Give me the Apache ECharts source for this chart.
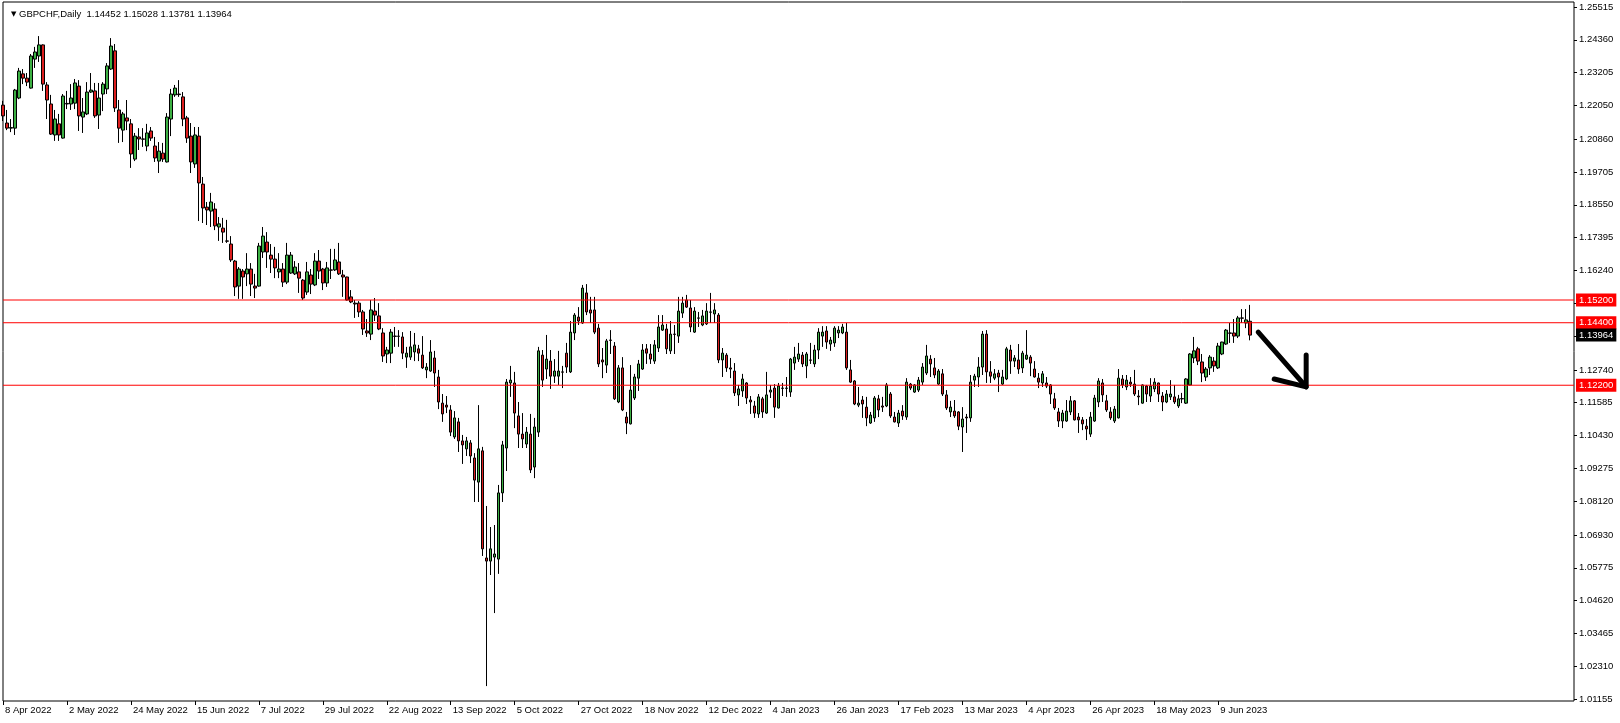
<!DOCTYPE html>
<html><head><meta charset="utf-8">
<script src="https://cdn.jsdelivr.net/npm/echarts@6/dist/echarts.min.js"></script>
<style>html,body{margin:0;padding:0;background:#fff}#c{width:1620px;height:723px}</style>
</head><body><div id="c"></div>
<script>
const symbolText = 'GBPCHF,Daily';
const lastQuote = ['1.14452', '1.15028', '1.13781', '1.13964'];
const dateLabels = ['8 Apr 2022','2 May 2022','24 May 2022','15 Jun 2022','7 Jul 2022','29 Jul 2022','22 Aug 2022','13 Sep 2022','5 Oct 2022','27 Oct 2022','18 Nov 2022','12 Dec 2022','4 Jan 2023','26 Jan 2023','17 Feb 2023','13 Mar 2023','4 Apr 2023','26 Apr 2023','18 May 2023','9 Jun 2023'];
const barsPerLabel = 16;
const totalSlots = 394;
const yTickLabels = ['1.25515','1.24360','1.23205','1.22050','1.20860','1.19705','1.18550','1.17395','1.16240','1.15085','1.13930','1.12740','1.11585','1.10430','1.09275','1.08120','1.06930','1.05775','1.04620','1.03465','1.02310','1.01155'];
const levelLines = [1.15200, 1.14400, 1.12200];
const bidPrice = 1.13964;
const arrowShaft = [[314, 1.1407], [326, 1.1214]];
const arrowHead = [[318, 1.1242], [326, 1.1214], [326, 1.1326]];

const opens = [
1.2206,1.2143,1.2125,1.2125,1.2231,1.2316,1.2301,1.2266,1.2368,1.2379,
1.2418,1.2277,1.2210,1.2101,1.2140,1.2090,1.2210,1.2210,1.2213,1.2273,
1.2164,1.2175,1.2252,1.2256,1.2171,1.2245,1.2263,1.2333,1.2397,1.2189,
1.2118,1.2161,1.2140,1.2016,1.2094,1.2087,1.2062,1.2115,1.2062,1.2009,
1.2037,1.2006,1.2157,1.2242,1.2245,1.2235,1.2161,1.2097,1.1999,1.2097,
1.1928,1.1847,1.1833,1.1840,1.1777,1.1773,1.1728,1.1717,1.1657,1.1569,
1.1622,1.1612,1.1629,1.1569,1.1569,1.1689,1.1724,1.1678,1.1664,1.1619,
1.1629,1.1583,1.1615,1.1612,1.1619,1.1590,1.1548,1.1608,1.1573,1.1657,
1.1629,1.1580,1.1626,1.1626,1.1654,1.1608,1.1601,1.1531,1.1509,1.1509,
1.1478,1.1411,1.1400,1.1481,1.1464,1.1404,1.1330,1.1333,1.1393,1.1392,
1.1390,1.1319,1.1319,1.1337,1.1348,1.1326,1.1274,1.1270,1.1316,1.1249,
1.1157,1.1150,1.1133,1.1038,1.1091,1.1024,1.0996,1.1017,1.0964,1.0879,
1.0989,1.0612,1.0601,1.0615,1.0608,1.0841,1.0999,1.1228,1.1228,1.1112,
1.1048,1.1013,1.1048,1.0932,1.1055,1.1326,1.1277,1.1305,1.1252,1.1252,
1.1267,1.1333,1.1267,1.1404,1.1460,1.1439,1.1545,1.1485,1.1485,1.1421,
1.1309,1.1291,1.1379,1.1358,1.1161,1.1281,1.1108,1.1084,1.1175,1.1245,
1.1277,1.1348,1.1330,1.1305,1.1351,1.1414,1.1418,1.1341,1.1400,1.1393,
1.1474,1.1520,1.1492,1.1407,1.1457,1.1432,1.1436,1.1478,1.1471,1.1467,
1.1309,1.1326,1.1281,1.1270,1.1186,1.1200,1.1228,1.1168,1.1147,1.1119,
1.1172,1.1122,1.1196,1.1210,1.1140,1.1210,1.1209,1.1196,1.1298,1.1312,
1.1326,1.1288,1.1309,1.1295,1.1344,1.1393,1.1411,1.1365,1.1369,1.1404,
1.1404,1.1407,1.1274,1.1235,1.1150,1.1168,1.1143,1.1087,1.1105,1.1172,
1.1147,1.1147,1.1189,1.1108,1.1087,1.1129,1.1108,1.1224,1.1196,1.1203,
1.1231,1.1263,1.1312,1.1281,1.1224,1.1260,1.1186,1.1126,1.1129,1.1126,
1.1073,1.1108,1.1105,1.1238,1.1249,1.1284,1.1400,1.1267,1.1245,1.1263,
1.1224,1.1242,1.1344,1.1305,1.1309,1.1281,1.1312,1.1319,1.1277,1.1245,
1.1228,1.1228,1.1221,1.1172,1.1126,1.1094,1.1094,1.1126,1.1165,1.1108,
1.1098,1.1076,1.1048,1.1094,1.1161,1.1228,1.1165,1.1126,1.1094,1.1105,
1.1242,1.1214,1.1231,1.1224,1.1182,1.1157,1.1217,1.1182,1.1207,1.1228,
1.1182,1.1161,1.1179,1.1179,1.1147,1.1172,1.1157,1.1221,1.1316,1.1348,
1.1302,1.1249,1.1281,1.1305,1.1281,1.1330,1.1365,1.1404,1.1404,1.1393,
1.1457,1.1439,1.14452];

const highs = [
1.2221,1.2189,1.2157,1.2263,1.2337,1.2333,1.2319,1.2386,1.2411,1.2449,
1.2420,1.2287,1.2242,1.2189,1.2175,1.2245,1.2256,1.2280,1.2298,1.2294,
1.2231,1.2287,1.2319,1.2284,1.2284,1.2287,1.2354,1.2442,1.2421,1.2224,
1.2182,1.2224,1.2157,1.2108,1.2125,1.2125,1.2140,1.2129,1.2094,1.2076,
1.2073,1.2178,1.2263,1.2277,1.2294,1.2252,1.2168,1.2143,1.2129,1.2129,
1.1953,1.1865,1.1897,1.1861,1.1812,1.1809,1.1802,1.1745,1.1661,1.1636,
1.1629,1.1685,1.1650,1.1612,1.1721,1.1777,1.1759,1.1717,1.1707,1.1685,
1.1650,1.1721,1.1689,1.1657,1.1650,1.1594,1.1654,1.1629,1.1685,1.1696,
1.1633,1.1654,1.1700,1.1700,1.1721,1.1626,1.1602,1.1555,1.1520,1.1516,
1.1485,1.1453,1.1520,1.1527,1.1509,1.1421,1.1355,1.1418,1.1425,1.1414,
1.1407,1.1355,1.1411,1.1404,1.1362,1.1393,1.1298,1.1379,1.1341,1.1274,
1.1189,1.1182,1.1150,1.1129,1.1105,1.1045,1.1038,1.1027,1.0981,1.1150,
1.1003,1.0795,1.0721,1.0728,1.0869,1.1024,1.1242,1.1288,1.1267,1.1161,
1.1122,1.1073,1.1119,1.1105,1.1355,1.1344,1.1397,1.1344,1.1312,1.1341,
1.1288,1.1369,1.1446,1.1474,1.1495,1.1573,1.1576,1.1531,1.1531,1.1436,
1.1351,1.1383,1.1414,1.1372,1.1291,1.1319,1.1126,1.1291,1.1260,1.1309,
1.1365,1.1365,1.1365,1.1379,1.1467,1.1467,1.1436,1.1446,1.1432,1.1531,
1.1531,1.1538,1.1520,1.1495,1.1478,1.1485,1.1509,1.1545,1.1509,1.1474,
1.1351,1.1333,1.1316,1.1298,1.1221,1.1260,1.1231,1.1182,1.1165,1.1189,
1.1179,1.1267,1.1221,1.1224,1.1228,1.1228,1.1249,1.1316,1.1355,1.1369,
1.1337,1.1337,1.1369,1.1362,1.1421,1.1428,1.1428,1.1390,1.1428,1.1428,
1.1436,1.1439,1.1309,1.1238,1.1214,1.1182,1.1179,1.1126,1.1182,1.1186,
1.1179,1.1228,1.1196,1.1126,1.1133,1.1150,1.1245,1.1228,1.1224,1.1249,
1.1298,1.1362,1.1326,1.1316,1.1277,1.1277,1.1203,1.1165,1.1168,1.1129,
1.1143,1.1119,1.1256,1.1260,1.1319,1.1411,1.1414,1.1305,1.1277,1.1274,
1.1274,1.1355,1.1362,1.1326,1.1365,1.1341,1.1414,1.1326,1.1305,1.1263,
1.1270,1.1249,1.1224,1.1193,1.1140,1.1133,1.1168,1.1182,1.1168,1.1122,
1.1108,1.1101,1.1126,1.1186,1.1245,1.1242,1.1186,1.1143,1.1147,1.1277,
1.1256,1.1256,1.1249,1.1274,1.1203,1.1223,1.1221,1.1245,1.1245,1.1229,
1.1196,1.1203,1.1238,1.1221,1.1186,1.1193,1.1245,1.1333,1.1390,1.1355,
1.1330,1.1284,1.1326,1.1319,1.1369,1.1373,1.1418,1.1439,1.1453,1.1464,
1.1488,1.1488,1.15028];

const lows = [
1.2150,1.2118,1.2111,1.2101,1.2227,1.2280,1.2273,1.2264,1.2337,1.2358,
1.2256,1.2157,1.2101,1.2080,1.2080,1.2088,1.2192,1.2189,1.2192,1.2115,
1.2108,1.2171,1.2249,1.2161,1.2122,1.2185,1.2245,1.2330,1.2182,1.2073,
1.2076,1.2118,1.1985,1.2009,1.2048,1.2059,1.2044,1.2080,1.2006,1.1967,
1.2006,1.2004,1.2097,1.2235,1.2235,1.2132,1.2073,1.1967,1.1985,1.1798,
1.1791,1.1784,1.1777,1.1766,1.1728,1.1721,1.1721,1.1654,1.1534,1.1524,
1.1524,1.1569,1.1534,1.1527,1.1567,1.1668,1.1633,1.1615,1.1597,1.1597,
1.1566,1.1576,1.1612,1.1608,1.1545,1.1520,1.1538,1.1541,1.1569,1.1594,
1.1555,1.1566,1.1594,1.1622,1.1608,1.1531,1.1518,1.1509,1.1457,1.1460,
1.1397,1.1390,1.1379,1.1446,1.1414,1.1302,1.1298,1.1298,1.1355,1.1355,
1.1312,1.1281,1.1309,1.1305,1.1305,1.1277,1.1245,1.1267,1.1214,1.1136,
1.1091,1.1122,1.1041,1.1031,1.0985,1.0943,1.0971,1.0946,1.0809,1.0809,
1.0619,1.0161,1.0552,1.0418,1.0556,1.0809,1.0918,1.1179,1.1069,1.0999,
1.0999,1.0999,1.0911,1.0893,1.1038,1.1214,1.1242,1.1207,1.1228,1.1221,
1.1210,1.1263,1.1263,1.1379,1.1432,1.1436,1.1467,1.1439,1.1400,1.1284,
1.1245,1.1263,1.1330,1.1168,1.1157,1.1129,1.1048,1.1082,1.1168,1.1200,
1.1274,1.1295,1.1295,1.1295,1.1337,1.1411,1.1330,1.1330,1.1330,1.1369,
1.1457,1.1492,1.1407,1.1404,1.1425,1.1428,1.1432,1.1439,1.1439,1.1298,
1.1249,1.1267,1.1245,1.1182,1.1147,1.1179,1.1154,1.1119,1.1105,1.1105,
1.1105,1.1119,1.1175,1.1105,1.1138,1.1182,1.1179,1.1179,1.1274,1.1302,
1.1284,1.1245,1.1295,1.1284,1.1312,1.1355,1.1348,1.1341,1.1355,1.1386,
1.1400,1.1274,1.1228,1.1150,1.1143,1.1105,1.1076,1.1084,1.1091,1.1108,
1.1126,1.1143,1.1105,1.1089,1.1073,1.1098,1.1098,1.1203,1.1193,1.1196,
1.1221,1.1256,1.1249,1.1245,1.1221,1.1182,1.1133,1.1108,1.1105,1.1062,
1.0985,1.1052,1.1091,1.1214,1.1214,1.1256,1.1228,1.1228,1.1238,1.1196,
1.1221,1.1238,1.1260,1.1284,1.1260,1.1263,1.1309,1.1252,1.1247,1.1210,
1.1214,1.1210,1.1154,1.1133,1.1073,1.1069,1.1091,1.1115,1.1096,1.1052,
1.1062,1.1027,1.1038,1.1091,1.1143,1.1161,1.1126,1.1098,1.1087,1.1103,
1.1210,1.1203,1.1214,1.1182,1.1150,1.1155,1.1161,1.1161,1.1196,1.1161,
1.1129,1.1157,1.1168,1.1154,1.1140,1.1157,1.1154,1.1219,1.1298,1.1291,
1.1231,1.1235,1.1256,1.1267,1.1277,1.1326,1.1362,1.1369,1.1369,1.1386,
1.1439,1.1421,1.13781];

const closes = [
1.2168,1.2125,1.2127,1.2259,1.2326,1.2301,1.2287,1.2379,1.2393,1.2418,
1.2280,1.2224,1.2104,1.2157,1.2101,1.2238,1.2212,1.2231,1.2284,1.2168,
1.2182,1.2252,1.2259,1.2168,1.2231,1.2280,1.2344,1.2414,1.2196,1.2125,
1.2175,1.2150,1.2034,1.2097,1.2087,1.2086,1.2108,1.2090,1.2020,1.2044,
1.2016,1.2164,1.2245,1.2266,1.2243,1.2157,1.2090,1.2006,1.2101,1.1932,
1.1844,1.1837,1.1865,1.1781,1.1788,1.1759,1.1727,1.1661,1.1566,1.1629,
1.1601,1.1629,1.1576,1.1562,1.1710,1.1745,1.1689,1.1664,1.1633,1.1629,
1.1583,1.1678,1.1678,1.1636,1.1597,1.1527,1.1619,1.1576,1.1657,1.1622,
1.1580,1.1633,1.1625,1.1661,1.1612,1.1601,1.1520,1.1513,1.1506,1.1478,
1.1418,1.1404,1.1485,1.1467,1.1418,1.1323,1.1344,1.1407,1.1392,1.1393,
1.1333,1.1333,1.1355,1.1362,1.1333,1.1281,1.1284,1.1337,1.1263,1.1161,
1.1119,1.1143,1.1055,1.1105,1.1024,1.1010,1.1024,1.0971,1.0886,1.0996,
1.0644,1.0601,1.0644,1.0626,1.0841,1.1010,1.1231,1.1238,1.1122,1.1048,
1.1031,1.1055,1.0922,1.1073,1.1341,1.1238,1.1312,1.1252,1.1270,1.1270,
1.1266,1.1284,1.1407,1.1467,1.1446,1.1562,1.1478,1.1474,1.1407,1.1295,
1.1302,1.1376,1.1378,1.1172,1.1281,1.1133,1.1087,1.1203,1.1249,1.1295,
1.1344,1.1333,1.1312,1.1362,1.1425,1.1432,1.1348,1.1400,1.1399,1.1481,
1.1509,1.1495,1.1425,1.1481,1.1456,1.1464,1.1481,1.1477,1.1485,1.1309,
1.1333,1.1281,1.1277,1.1193,1.1207,1.1242,1.1175,1.1161,1.1122,1.1179,
1.1126,1.1186,1.1203,1.1143,1.1217,1.1209,1.1210,1.1312,1.1319,1.1330,
1.1295,1.1330,1.1308,1.1344,1.1407,1.1407,1.1372,1.1379,1.1421,1.1414,
1.1425,1.1281,1.1231,1.1154,1.1157,1.1154,1.1105,1.1115,1.1175,1.1133,
1.1143,1.1221,1.1112,1.1091,1.1122,1.1112,1.1231,1.1210,1.1221,1.1238,
1.1284,1.1323,1.1295,1.1256,1.1270,1.1189,1.1140,1.1143,1.1112,1.1076,
1.1101,1.1105,1.1231,1.1252,1.1284,1.1400,1.1267,1.1252,1.1260,1.1249,
1.1249,1.1348,1.1305,1.1316,1.1277,1.1333,1.1326,1.1298,1.1249,1.1231,
1.1260,1.1217,1.1189,1.1140,1.1094,1.1122,1.1129,1.1165,1.1098,1.1098,
1.1084,1.1066,1.1108,1.1175,1.1235,1.1186,1.1133,1.1105,1.1136,1.1245,
1.1221,1.1238,1.1224,1.1189,1.1179,1.1221,1.1189,1.1217,1.1231,1.1189,
1.1161,1.1189,1.1189,1.1161,1.1172,1.1173,1.1242,1.1330,1.1341,1.1305,
1.1263,1.1277,1.1319,1.1288,1.1358,1.1372,1.1414,1.1403,1.1393,1.1457,
1.1456,1.1450,1.13964];

const FONT = 'Liberation Sans';
const FS = 9.5;
const categories = [];
for (let i = 0; i < totalSlots; i++) categories.push(String(i));
const candleData = opens.map((o, i) => [o, closes[i], lows[i], highs[i]]);
const showLabel = (idx) => idx % barsPerLabel === 0 && idx / barsPerLabel < dateLabels.length;

function priceLine(v, lineColor, boxColor, lineVisible) {
  return {
    type: 'line', silent: true, symbol: 'none', z: 4,
    data: [[0, v], [totalSlots - 1, v]],
    lineStyle: { color: lineColor, width: 1, opacity: lineVisible ? 1 : 0 },
    endLabel: { show: true, distance: 2, formatter: () => v.toFixed(5),
      color: '#fff', backgroundColor: boxColor, padding: [2, 3, 1, 3],
      fontFamily: FONT, fontSize: FS }
  };
}

const chart = echarts.init(document.getElementById('c'), null, { renderer: 'canvas' });
chart.setOption({
  animation: false,
  backgroundColor: '#fff',
  title: {
    left: 6, top: 4,
    text: '{t|▼} ' + symbolText + '  ' + lastQuote.join(' '),
    textStyle: { fontFamily: FONT, fontSize: FS, fontWeight: 'normal', color: '#000',
      rich: { t: { fontSize: 7, color: '#000', fontFamily: 'DejaVu Sans' } } }
  },
  grid: { left: 3, top: 2, width: 1571, height: 699, show: true, borderColor: '#000', borderWidth: 1, backgroundColor: 'transparent' },
  xAxis: {
    type: 'category', data: categories, boundaryGap: false,
    axisLine: { show: false },
    axisTick: { show: true, interval: (idx) => showLabel(idx), length: 4, lineStyle: { color: '#000' } },
    axisLabel: { show: true, interval: (idx) => showLabel(idx), align: 'left', margin: 4,
      padding: [0, 0, 0, 2],
      formatter: (v) => dateLabels[Math.round(Number(v) / barsPerLabel)] || '',
      fontFamily: FONT, fontSize: FS, color: '#000', hideOverlap: false },
    splitLine: { show: false }
  },
  yAxis: {
    type: 'value', position: 'right', min: 1.01085, max: 1.2569,
    axisLine: { show: false },
    axisTick: { show: true, length: 3, customValues: yTickLabels.map(Number), lineStyle: { color: '#000' } },
    axisLabel: { show: true, margin: 5, customValues: yTickLabels.map(Number),
      formatter: (v) => Number(v).toFixed(5), fontFamily: FONT, fontSize: FS, color: '#000' },
    splitLine: { show: false }
  },
  series: [
    {
      type: 'candlestick', data: candleData, barWidth: 3, z: 3,
      itemStyle: { color: '#3cb043', color0: '#dc1e1e', borderColor: '#000', borderColor0: '#000', borderWidth: 1 }
    },
    ...levelLines.map(v => priceLine(v, '#ff0000', '#ff0000', true)),
    priceLine(bidPrice, '#000', '#000', false),
    {
      type: 'line', data: arrowShaft, symbol: 'none', silent: true, z: 10,
      lineStyle: { color: '#000', width: 5, cap: 'round' }
    },
    {
      type: 'line', data: arrowHead, symbol: 'none', silent: true, z: 10,
      lineStyle: { color: '#000', width: 5, cap: 'round', join: 'round' }
    }
  ]
});
</script>
</body></html>
